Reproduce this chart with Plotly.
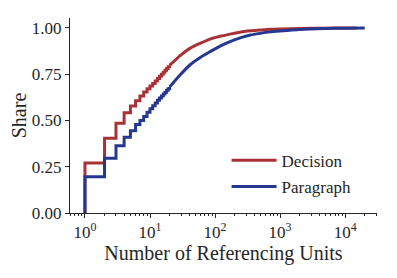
import plotly.graph_objects as go

# Step part (integer counts 1..20)
step_x = [1, 1, 2, 3, 4, 5, 6, 7, 8, 9, 10, 11, 12, 13, 14, 15, 16, 17, 18, 19, 20]
decision_step = [0.0, 0.270, 0.404, 0.485, 0.542, 0.578, 0.607, 0.633, 0.654, 0.671, 0.686,
                 0.700, 0.714, 0.727, 0.739, 0.750, 0.761, 0.771, 0.781, 0.790, 0.798]
paragraph_step = [0.0, 0.196, 0.296, 0.364, 0.409, 0.445, 0.478, 0.500, 0.522, 0.545, 0.563,
                  0.580, 0.595, 0.609, 0.621, 0.633, 0.643, 0.653, 0.663, 0.672, 0.681]

# Smooth tail
decision_tail_x = [20, 30, 41, 60, 84, 120, 170, 250, 350, 490, 700, 1000, 2000, 5000, 10000, 15000]
decision_tail = [0.798, 0.855, 0.890, 0.918, 0.940, 0.955, 0.967, 0.978, 0.985, 0.989, 0.993,
                 0.995, 0.997, 0.999, 1.0, 1.0]
paragraph_tail_x = [20, 29, 41, 60, 84, 120, 170, 250, 350, 490, 700, 1000, 2000, 5000, 10000, 20000]
paragraph_tail = [0.681, 0.746, 0.800, 0.842, 0.872, 0.902, 0.926, 0.948, 0.962, 0.971, 0.979,
                  0.984, 0.992, 0.997, 0.999, 1.0]

x_tickvals = [1, 10, 100, 1000, 10000]
x_ticktext = ["10<sup>0</sup>", "10<sup>1</sup>", "10<sup>2</sup>", "10<sup>3</sup>", "10<sup>4</sup>"]
y_tickvals = [0, 0.25, 0.5, 0.75, 1.0]

RED = "#a83236"
BLUE = "#26378f"
FONT = "Liberation Serif"

fig = go.Figure()
for name, color, sy, tx, ty in [
    ("Decision", RED, decision_step, decision_tail_x, decision_tail),
    ("Paragraph", BLUE, paragraph_step, paragraph_tail_x, paragraph_tail),
]:
    fig.add_trace(go.Scatter(x=step_x, y=sy, mode="lines", line=dict(color=color, width=3, shape="hv"),
                             name=name, legendgroup=name, showlegend=True))
    fig.add_trace(go.Scatter(x=tx, y=ty, mode="lines", line=dict(color=color, width=3, shape="spline", smoothing=0.6),
                             name=name, legendgroup=name, showlegend=False))

# page body has an 8px margin: compensate so the plot area lands at x 70..377, y 18..213
fig.update_layout(
    width=397, height=278,
    margin=dict(l=62, r=28, t=10, b=73),
    paper_bgcolor="white", plot_bgcolor="white",
    font=dict(family=FONT, size=17, color="#262626"),
    showlegend=True,
    legend=dict(x=0.51, y=0.36, xanchor="left", yanchor="top", bgcolor="rgba(0,0,0,0)",
                font=dict(size=17), tracegroupgap=1, itemwidth=45),
)
fig.update_xaxes(
    type="log", range=[-0.23, 4.49],
    tickvals=x_tickvals, ticktext=x_ticktext,
    showline=True, linecolor="#262626", linewidth=1,
    ticks="outside", ticklen=4, tickcolor="#262626",
    minor=dict(ticks="outside", ticklen=2, tickcolor="#262626", dtick="D1", showgrid=False),
    showgrid=False, zeroline=False, automargin=False,
    title=dict(text="Number of Referencing Units", standoff=4, font=dict(size=20)),
)
fig.update_yaxes(
    range=[0, 1.054],
    tickvals=y_tickvals, tickformat=".2f",
    showline=True, linecolor="#262626", linewidth=1,
    ticks="outside", ticklen=4, tickcolor="#262626",
    showgrid=False, zeroline=False, automargin=False,
    title=dict(text="Share", standoff=6, font=dict(size=20)),
)

fig.write_html("out.html")
